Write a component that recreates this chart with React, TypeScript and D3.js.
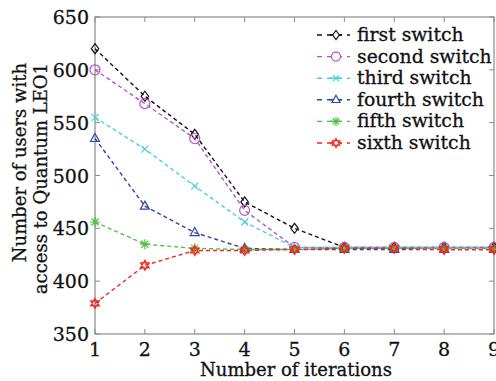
import React from "react";
import * as d3 from "d3";

const iterations = [1, 2, 3, 4, 5, 6, 7, 8, 9];
const seriesNames = ["first switch", "second switch", "third switch", "fourth switch", "fifth switch", "sixth switch"];
const firstSwitch = [620, 575, 539, 475, 450, 432, 432, 432, 432];
const secondSwitch = [600, 568, 535, 467, 432, 432, 432, 432, 432];
const thirdSwitch = [555, 525, 490, 456, 432, 432, 432, 432, 432];
const fourthSwitch = [535, 471, 446, 431, 430, 430, 430, 430, 430];
const fifthSwitch = [456, 435, 431, 430, 430, 431, 431, 431, 431];
const sixthSwitch = [379, 415, 429, 429, 430, 431, 431, 430, 430];
const yTicks = [350, 400, 450, 500, 550, 600, 650];
const xTicks = [1, 2, 3, 4, 5, 6, 7, 8, 9];

const seriesValues = [firstSwitch, secondSwitch, thirdSwitch, fourthSwitch, fifthSwitch, sixthSwitch];
const colors = ["#111111", "#b651c4", "#4fcde0", "#2a45b0", "#4cc23c", "#f02a20"];
const markers = ["diamond", "circle", "x", "triangle", "asterisk", "hexagram"];

function markerPath(kind: string, r: number): string {
  if (kind === "diamond") return `M0,${-r}L${r * 0.75},0L0,${r}L${-r * 0.75},0Z`;
  if (kind === "circle") return d3.symbol(d3.symbolCircle, Math.PI * r * r)()!;
  if (kind === "x") {
    const a = r * 0.7;
    return `M${-a},${-a}L${a},${a}M${-a},${a}L${a},${-a}`;
  }
  if (kind === "triangle") return `M0,${-r}L${r * 0.9},${r * 0.6}L${-r * 0.9},${r * 0.6}Z`;
  if (kind === "asterisk") {
    let p = "";
    for (let i = 0; i < 4; i++) {
      const ang = (i * Math.PI) / 4;
      const dx = Math.cos(ang) * r, dy = Math.sin(ang) * r;
      p += `M${-dx},${-dy}L${dx},${dy}`;
    }
    return p;
  }
  const t = (off: number) => {
    const pts = [0, 1, 2].map((i) => {
      const ang = off + (i * 2 * Math.PI) / 3;
      return `${Math.sin(ang) * r},${-Math.cos(ang) * r}`;
    });
    return `M${pts[0]}L${pts[1]}L${pts[2]}Z`;
  };
  return t(0) + t(Math.PI);
}

export default function App() {
  const W = 496, H = 381;
  const left = 95, right = 494, top = 17, bottom = 334;
  const x = d3.scaleLinear().domain([1, 9]).range([left, right]);
  const y = d3.scaleLinear().domain([350, 650]).range([bottom, top]);
  const line = d3.line<number>().x((_, i) => x(iterations[i])).y((d) => y(d));
  const font = "'DejaVu Serif', serif";
  const txt = { fontFamily: font, fill: "#111", stroke: "#111", strokeWidth: 0.3 } as const;

  return (
    <svg width={W} height={H} style={{ position: "absolute", left: 0, top: 0 }}>
      <rect width={W} height={H} fill="#fff" />
      <rect x={left} y={top} width={right - left} height={bottom - top} fill="none" stroke="#8a8a8a" strokeWidth={1.2} />
      {xTicks.map((t) => (
        <g key={"xt" + t}>
          <line x1={x(t)} x2={x(t)} y1={bottom} y2={bottom - 5} stroke="#8a8a8a" />
          <line x1={x(t)} x2={x(t)} y1={top} y2={top + 5} stroke="#8a8a8a" />
          <text x={x(t)} y={bottom + 22} {...txt} fontSize={19} textAnchor="middle">{t}</text>
        </g>
      ))}
      {yTicks.map((t) => (
        <g key={"yt" + t}>
          <line x1={left} x2={left + 5} y1={y(t)} y2={y(t)} stroke="#8a8a8a" />
          <line x1={right} x2={right - 5} y1={y(t)} y2={y(t)} stroke="#8a8a8a" />
          <text x={left - 6} y={y(t) + 7} {...txt} fontSize={19} textAnchor="end">{t}</text>
        </g>
      ))}
      <text x={296} y={376} {...txt} fontSize={18} textAnchor="middle">Number of iterations</text>
      <text transform="translate(26,63) rotate(-90)" {...txt} fontSize={18} textAnchor="end">Number of users with</text>
      <text transform="translate(47,63) rotate(-90)" {...txt} fontSize={18} textAnchor="end">access to Quantum LEO1</text>
      {seriesValues.map((vals, si) => (
        <g key={"s" + si}>
          <path d={line(vals)!} fill="none" stroke={colors[si]} strokeWidth={1.4} strokeDasharray="4,3" />
          {vals.map((v, i) => (
            <path key={i} d={markerPath(markers[si], 5)} transform={`translate(${x(iterations[i])},${y(v)})`} fill="none" stroke={colors[si]} strokeWidth={1.2} />
          ))}
        </g>
      ))}
      {seriesNames.map((name, si) => {
        const ly = 35 + si * 21.6;
        return (
          <g key={"l" + si}>
            <line x1={317} x2={350} y1={ly} y2={ly} stroke={colors[si]} strokeWidth={1.4} strokeDasharray="5,5" />
            <line x1={330} x2={342} y1={ly} y2={ly} stroke={colors[si]} strokeWidth={1.4} />
            <path d={markerPath(markers[si], 4.5)} transform={`translate(336,${ly})`} fill="#fff" stroke={colors[si]} strokeWidth={1.2} />
            <text x={357} y={ly + 6} {...txt} fontSize={18.8}>{name}</text>
          </g>
        );
      })}
    </svg>
  );
}
